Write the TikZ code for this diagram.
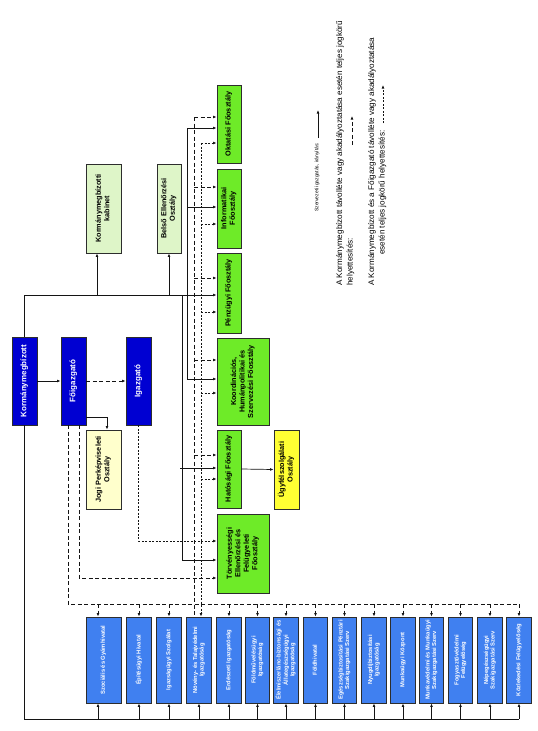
\documentclass[tikz,border=0pt]{standalone}
\usepackage{fontspec}
\setmainfont{Liberation Sans}
\usepackage{graphicx}
\usetikzlibrary{arrows.meta,calc}
\definecolor{leadc}{RGB}{0,0,210}
\definecolor{offc}{RGB}{64,128,240}
\definecolor{greenc}{RGB}{110,235,40}
\definecolor{kabc}{RGB}{222,245,200}
\definecolor{jogc}{RGB}{255,255,204}
\definecolor{ugyc}{RGB}{255,255,51}
\definecolor{bordc}{RGB}{45,45,45}
\definecolor{linec}{RGB}{20,20,20}
\newcommand{\rt}[1]{\rotatebox{90}{\begin{tabular}{@{}c@{}}#1\end{tabular}}}
\begin{document}
\begin{tikzpicture}[x=1pt,y=-1pt,
  box/.style={draw=bordc, line width=0.8pt, inner sep=0pt, align=center},
  lead/.style={box, fill=leadc, text=white, minimum width=25pt, minimum height=88pt, font=\bfseries\fontsize{8}{9}\selectfont},
  lbox/.style={box, font=\bfseries\fontsize{7.3}{8.5}\selectfont},
  gbox/.style={box, fill=greenc, minimum width=24pt, font=\bfseries\fontsize{7.3}{8.5}\selectfont},
  obox/.style={box, fill=offc, text=white, minimum width=24.5pt, minimum height=86pt, font=\bfseries\fontsize{5.8}{6.6}\selectfont},
  leg/.style={inner sep=0pt, font=\fontsize{8.1}{9}\selectfont},
  ln/.style={draw=linec, line width=0.7pt},
  sol/.style={ln, -{Latex[length=3.5pt,width=2.8pt]}},
  dsh/.style={ln, dash pattern=on 4pt off 2.5pt},
  dsha/.style={dsh, -{Latex[length=3.5pt,width=2.8pt]}},
  dtt/.style={ln, dash pattern=on 2pt off 1.5pt},
  dtta/.style={dtt, -{Latex[length=3.5pt,width=2.8pt]}}
]
\useasboundingbox (0,0) rectangle (538,731);
% leaders
\node[lead] (kor) at (24.5,381) {\rt{Kormánymegbízott}};
\node[lead] (foig) at (73.5,381) {\rt{Főigazgató}};
\node[lead] (igaz) at (138.5,381) {\rt{Igazgató}};
% staff units
\node[lbox, fill=kabc, minimum width=35pt, minimum height=89pt] (kab) at (103.5,208.5) {\rt{Kormánymegbízotti\\kabinet}};
\node[lbox, fill=kabc, minimum width=24pt, minimum height=89pt] (belso) at (169,208.5) {\rt{Belső Ellenőrzési\\Osztály}};
\node[lbox, fill=jogc, minimum width=35pt, minimum height=79pt] (jogi) at (103.5,469.5) {\rt{Jogi Perképviseleti\\Osztály}};
\node[lbox, fill=ugyc, minimum width=25pt, minimum height=79pt] (ugy) at (286.5,469.5) {\rt{Ügyfélszolgálati\\Osztály}};
% main departments
\node[gbox, minimum height=78pt] (okt) at (229,124) {\rt{Oktatási Főosztály}};
\node[gbox, minimum height=79pt] (info) at (229,208.5) {\rt{Informatikai\\Főosztály}};
\node[gbox, minimum height=80pt] (penz) at (229,293) {\rt{Pénzügyi Főosztály}};
\node[gbox, minimum width=52pt, minimum height=87pt] (koord) at (243,381.5) {\rt{Koordinációs,\\Humánpolitikai és\\Szervezési Főosztály}};
\node[gbox, minimum height=78pt] (hat) at (229,469) {\rt{Hatósági Főosztály}};
\node[gbox, minimum width=52pt, minimum height=79pt] (torv) at (243,553.5) {\rt{Törvényességi\\Ellenőrzési és\\Felügyeleti\\Főosztály}};
% offices
\node[obox, minimum width=35pt] (o1) at (103.5,660) {\rt{Szociális és Gyámhivatal}};
\node[obox] (o2) at (139,660) {\rt{Építésügyi Hivatal}};
\node[obox] (o3) at (169,660) {\rt{Igazságügyi Szolgálat}};
\node[obox] (o4) at (199,660) {\rt{Növény- és Talajvédelmi\\Igazgatóság}};
\node[obox] (o5) at (229,660) {\rt{Erdészeti Igazgatóság}};
\node[obox] (o6) at (257.5,660) {\rt{Földművelésügyi\\Igazgatóság}};
\node[obox] (o7) at (286,660) {\rt{Élelmiszerlánc-biztonsági és\\Állategészségügyi\\Igazgatóság}};
\node[obox] (o8) at (315.5,660) {\rt{Földhivatal}};
\node[obox] (o9) at (344.5,660) {\rt{Egészségbiztosítási Pénztári\\Szakigazgatási Szerv}};
\node[obox] (o10) at (374,660) {\rt{Nyugdíjbiztosítási\\Igazgatóság}};
\node[obox] (o11) at (403,660) {\rt{Munkaügyi Központ}};
\node[obox] (o12) at (431.5,660) {\rt{Munkavédelmi és Munkaügyi\\Szakigazgatási Szerv}};
\node[obox] (o13) at (460.5,660) {\rt{Fogyasztóvédelmi\\Felügyelőség}};
\node[obox] (o14) at (490,660) {\rt{Népegészségügyi\\Szakigazgatási Szerv}};
\node[obox] (o15) at (519,660) {\rt{Közlekedési Felügyelőség}};
% ---- solid: organisational management
\draw[sol] (kor.east) -- (foig.west);
\coordinate (ktop) at (24.5,295);
\draw[ln] (kor.north) -- (ktop);
\draw[sol] (ktop) -- (penz.west |- ktop);
\coordinate (kabA) at ([xshift=-6.5pt]kab.south);
\draw[sol] (kabA |- ktop) -- (kabA);
\draw[sol] (belso.south |- ktop) -- (belso.south);
\coordinate (jogA) at ([xshift=3.5pt]jogi.north);
\draw[sol] (foig.east |- 0,417) -| (jogA);
\coordinate (sA) at (187,128);
\coordinate (sB) at (187,379);
\coordinate (sC) at (182,295);
\coordinate (sD) at (182,560);
\draw[ln] (sA) -- (sB);
\draw[ln] (sC) -- (sD);
\draw[sol] (sA) -- (okt.west |- sA);
\draw[sol] (sA |- 0,207) -- (info.west |- 0,207);
\draw[sol] (sB) -- (koord.west |- sB);
\draw[sol] (180,468) -- (hat.west |- 0,468);
\draw[sol] (sD) -- (torv.west |- sD);
\draw[sol] (hat.east) -- (ugy.west);
\coordinate (bL) at (24.5,719);
\coordinate (bR) at (519,719);
\draw[ln] (kor.south) -- (bL) -- (bR);
\coordinate (o1a) at ([xshift=-5.5pt]o1.south);
\draw[sol] (o1a |- bL) -- (o1a);
\foreach \o in {o2,o3,o4,o5,o6,o7,o8,o9,o10,o11,o12,o13,o14,o15}
  \draw[sol] (\o.south |- bL) -- (\o.south);
% ---- dashed: deputy of Kormánymegbízott
\draw[dsha] (foig.east) -- (igaz.west);
\coordinate (fL) at ([xshift=-5.5pt]foig.south);
\coordinate (fR) at ([xshift=5.5pt]foig.south);
\coordinate (dL) at (68,604);
\coordinate (dR) at (519,604);
\draw[dsh] (fL) -- (dL) -- (dR);
\draw[dsha] (fR) |- (torv.west |- 0,578);
\coordinate (dT) at (194,117);
\draw[dsh] (dT) -- (dT |- o4.north);
\draw[dsha] (dT) -- (okt.west |- dT);
\draw[dsha] (dT |- 0,187) -- (info.west |- 0,187);
\draw[dsha] (dT |- 0,278) -- (penz.west |- 0,278);
\draw[dsha] (dT |- 0,360) -- (koord.west |- 0,360);
\draw[dsha] (dT |- 0,455) -- (hat.west |- 0,455);
\coordinate (o1b) at ([xshift=-5.5pt]o1.north);
\draw[dsha] (o1b |- dL) -- (o1b);
\foreach \o in {o2,o3,o5,o6,o7,o8,o9,o10,o11,o12,o13,o14,o15}
  \draw[dsha] (\o.north |- dL) -- (\o.north);
% ---- fine dashed: deputy of both
\coordinate (gT) at (201,143);
\draw[dtta] (gT) -- (gT |- o4.north);
\draw[dtta] (gT) -- (okt.west |- gT);
\draw[dtta] (gT |- 0,224) -- (info.west |- 0,224);
\draw[dtta] (gT |- 0,312) -- (penz.west |- 0,312);
\draw[dtta] (gT |- 0,393) -- (koord.west |- 0,393);
\draw[dtta] (gT |- 0,479) -- (hat.west |- 0,479);
\draw[dtta] (igaz.south) |- (torv.west |- 0,541);
% ---- legend
\node[leg, font=\fontsize{5}{6}\selectfont, anchor=south] (L1) at (317,212) {\rotatebox{90}{Szervezeti igazgatás, irányítás:}};
\coordinate (l1a) at (318,138);
\coordinate (l1b) at (318,110);
\draw[sol] (l1a) -- (l1b);
\node[leg, anchor=south] (L2a) at (340,286) {\rotatebox{90}{A Kormánymegbízott távolléte vagy akadályoztatása esetén teljes jogkörű}};
\node[leg, anchor=south] (L2b) at (350.5,286) {\rotatebox{90}{helyettesítés:}};
\coordinate (l2a) at (352,145);
\coordinate (l2b) at (352,116);
\draw[dsha] (l2a) -- (l2b);
\node[leg, anchor=south] (L3a) at (372,286) {\rotatebox{90}{A Kormánymegbízott és a Főigazgató távolléte vagy akadályoztatása}};
\node[leg, anchor=south] (L3b) at (382.5,255) {\rotatebox{90}{esetén teljes jogkörű helyettesítés:}};
\coordinate (l3a) at (383,123);
\coordinate (l3b) at (383,85);
\draw[dtta] (l3a) -- (l3b);
\end{tikzpicture}
\end{document}
